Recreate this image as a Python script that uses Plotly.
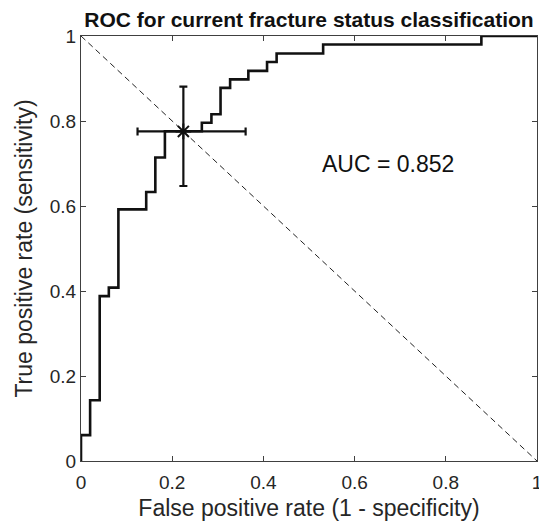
import plotly.graph_objects as go

# ROC curve corner points
fpr = [0, 0, 0.020, 0.041, 0.061, 0.082, 0.143, 0.163, 0.184, 0.265, 0.286,
       0.306, 0.327, 0.367, 0.408, 0.429, 0.531, 0.878, 1.0]
tpr = [0, 0.061, 0.143, 0.388, 0.408, 0.592, 0.633, 0.714, 0.776, 0.796, 0.816,
       0.878, 0.898, 0.918, 0.939, 0.959, 0.980, 1.0, 1.0]

# Operating point with confidence intervals
op_fpr = [0.2245]
op_tpr = [0.7755]
fpr_ci_low = [0.124]
fpr_ci_high = [0.361]
tpr_ci_low = [0.647]
tpr_ci_high = [0.881]

# Chance line
chance_x = [0, 1]
chance_y = [1, 0]

auc_text = "AUC = 0.852"
tick_vals = [0, 0.2, 0.4, 0.6, 0.8, 1]
tick_text = ["0", "0.2", "0.4", "0.6", "0.8", "1"]

FONT = "Liberation Sans, Arial, Helvetica, sans-serif"

fig = go.Figure()

fig.add_trace(go.Scatter(
    x=chance_x, y=chance_y, mode="lines",
    line=dict(color="#222222", width=1, dash="6px,4px"),
    showlegend=False, hoverinfo="skip"))

fig.add_trace(go.Scatter(
    x=fpr, y=tpr, mode="lines", line_shape="hv",
    line=dict(color="#111111", width=2.6),
    showlegend=False))

fig.add_trace(go.Scatter(
    x=op_fpr, y=op_tpr, mode="markers",
    marker=dict(symbol="asterisk-open", size=13, color="#111111",
                line=dict(color="#111111", width=2)),
    error_x=dict(type="data", symmetric=False,
                 array=[h - c for h, c in zip(fpr_ci_high, op_fpr)],
                 arrayminus=[c - l for c, l in zip(op_fpr, fpr_ci_low)],
                 color="#111111", thickness=2.2, width=4),
    error_y=dict(type="data", symmetric=False,
                 array=[h - c for h, c in zip(tpr_ci_high, op_tpr)],
                 arrayminus=[c - l for c, l in zip(op_tpr, tpr_ci_low)],
                 color="#111111", thickness=2.2, width=4),
    showlegend=False))

fig.add_annotation(x=0.673, y=0.70, xref="x", yref="y", text=auc_text,
                   showarrow=False, font=dict(family=FONT, size=23, color="#111111"),
                   xanchor="center", yanchor="middle")

axis_common = dict(
    range=[0, 1], showgrid=False, zeroline=False, automargin=False,
    showline=True, linecolor="#404040", linewidth=1, mirror="ticks",
    ticks="inside", ticklen=5, tickwidth=1, tickcolor="#404040",
    tickvals=tick_vals, ticktext=tick_text,
    tickfont=dict(family=FONT, size=19, color="#262626"),
    ticklabeloverflow="allow",
)

fig.update_layout(
    width=539, height=526,
    margin=dict(l=81, r=2, t=36, b=65, autoexpand=False),
    paper_bgcolor="white", plot_bgcolor="white",
    title=dict(text="<b>ROC for current fracture status classification</b>",
               x=(81 + 537) / 2 / 539, xanchor="center",
               y=1 - 20 / 526, yanchor="middle",
               font=dict(family=FONT, size=21, color="#111111")),
    xaxis=dict(**axis_common,
               ticklabelstandoff=4,
               title=dict(text="False positive rate (1 - specificity)",
                          font=dict(family=FONT, size=23, color="#262626"),
                          standoff=8)),
    yaxis=dict(**axis_common,
               title=dict(text="True positive rate (sensitivity)",
                          font=dict(family=FONT, size=23, color="#262626"),
                          standoff=10)),
)

fig.write_html("out.html")
